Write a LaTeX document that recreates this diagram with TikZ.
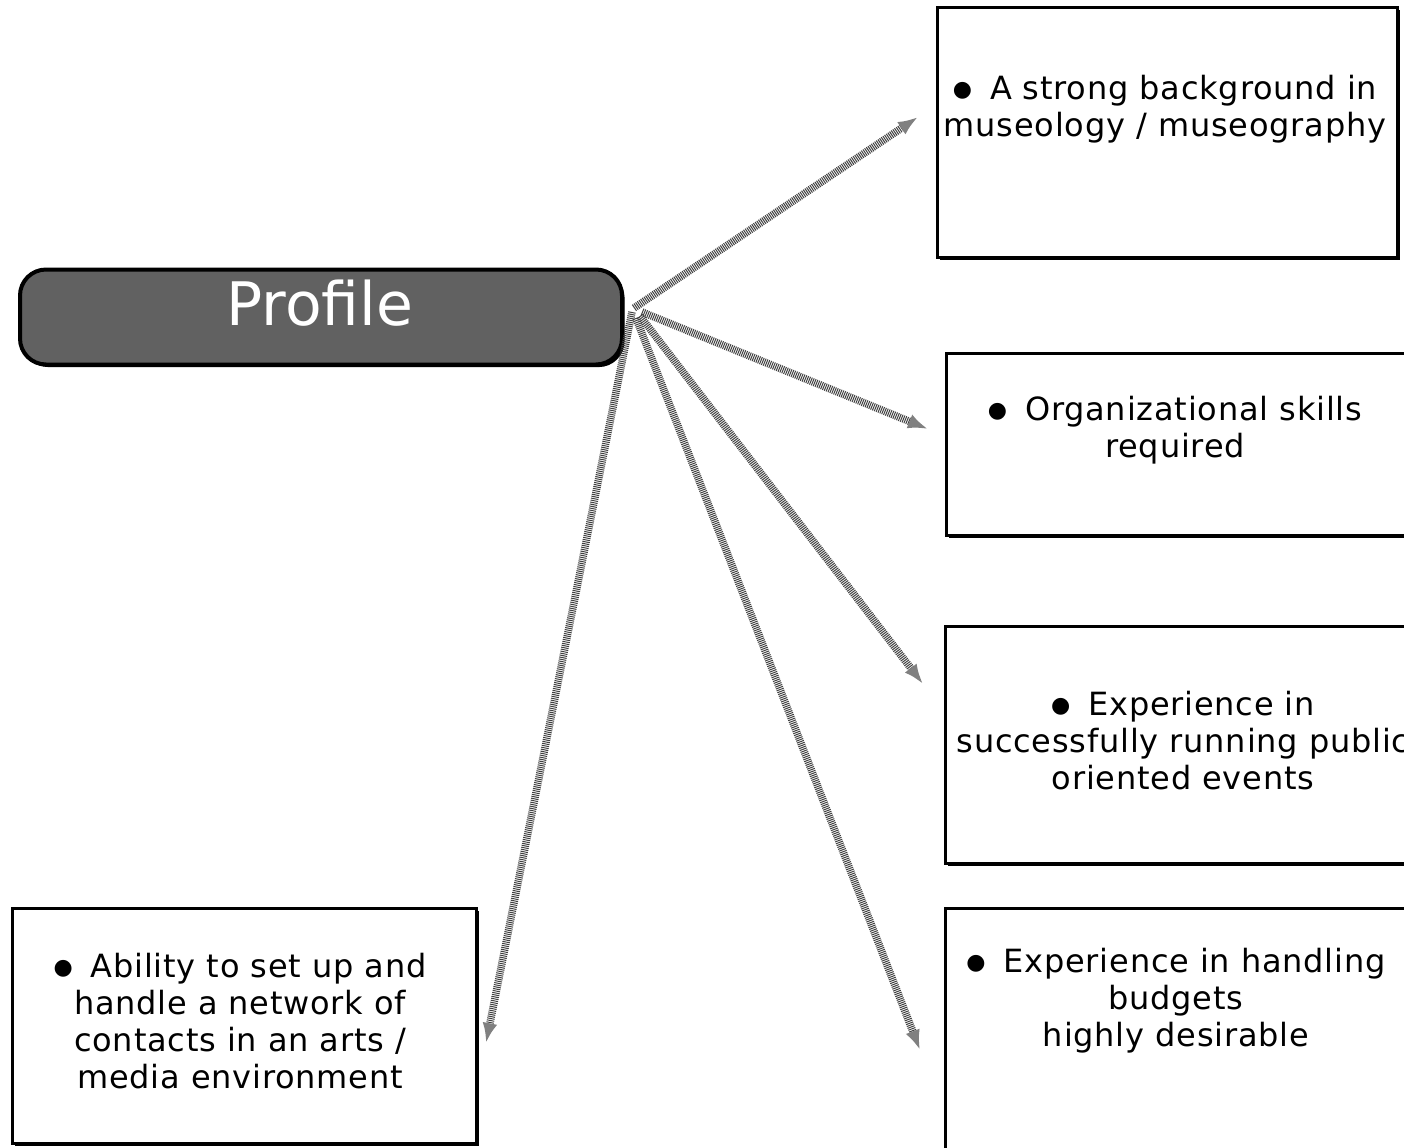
\documentclass[tikz,border=0pt]{standalone}
\usepackage{fontspec}
\setmainfont{DejaVu Sans}[LetterSpace=2.5]
\newfontfamily\headfont{DejaVu Sans}
\usetikzlibrary{arrows.meta,shadows}
\newcommand\dotmark{\raisebox{1.6pt}{\fontsize{11}{11}\selectfont ●}\hspace{3.5pt}}
\begin{document}
\begin{tikzpicture}[x=0.5pt,y=-0.5pt,
  card/.style={draw=black, line width=1.5pt, fill=white, rectangle, inner sep=0pt,
    drop shadow={shadow xshift=1.4pt, shadow yshift=-1.4pt, fill=black, opacity=1}},
  cardtext/.style={align=center, font=\fontsize{16}{18.5}\selectfont, inner sep=0pt},
  link/.style={line width=3.8pt, black!75, dash pattern=on 0.5pt off 0.5pt,
    -{Latex[length=10pt,width=7.5pt,fill=black!50,color=black!50]}},
]
\clip (0,0) rectangle (1404,1147);
\fill[white] (0,0) rectangle (1404,1147);

% central heading
\node[rounded corners=13pt, fill=black!62, draw=black, line width=2pt,
      minimum width=301pt, minimum height=47.5pt, inner sep=0pt,
      drop shadow={shadow xshift=1.3pt, shadow yshift=-1.3pt, fill=black, opacity=1}]
      (profile) at (321,317) {};
\node[text=white, font=\headfont\fontsize{30}{32}\selectfont, inner sep=0pt] (profiletext) at (320,303) {Profile};

% requirement cards
\node[card, minimum width=230pt, minimum height=125pt] (boxA) at (1167,132) {};
\node[cardtext] (textA) at (1165,109) {\dotmark\ A strong background in\\museology / museography};

\node[card, minimum width=235pt, minimum height=91pt] (boxB) at (1181,444) {};
\node[cardtext] (textB) at (1175,430) {\dotmark\ Organizational skills\\required};

\node[card, minimum width=235pt, minimum height=118.5pt] (boxC) at (1180,744.5) {};
\begin{scope}
  \clip (947,628) rectangle (1404,861);
  \node[cardtext] (textC) at (1183,741) {\dotmark\ Experience in\\successfully running public\\oriented events};
\end{scope}

\node[card, minimum width=235pt, minimum height=130pt] (boxD) at (1180,1038) {};
\node[cardtext] (textD) at (1176,1001) {\dotmark\ Experience in handling\\budgets\\highly desirable};

\node[card, minimum width=232pt, minimum height=117.5pt] (boxE) at (244,1025.5) {};
\node[cardtext] (textE) at (240,1021) {\dotmark\ Ability to set up and\\handle a network of\\contacts in an arts /\\media environment};

% connector ends
\coordinate (sA) at (634,308);
\coordinate (sB) at (642,312);
\coordinate (sC) at (640,316);
\coordinate (sD) at (636,318);
\coordinate (sE) at (632,312);
\coordinate (eA) at (918,117);
\coordinate (eB) at (928,429);
\coordinate (eC) at (923,684);
\coordinate (eD) at (920,1050);
\coordinate (eE) at (486,1043);

\draw[link] (sA) -- (eA);
\draw[link] (sB) -- (eB);
\draw[link] (sC) -- (eC);
\draw[link] (sD) -- (eD);
\draw[link] (sE) -- (eE);
\end{tikzpicture}
\end{document}
